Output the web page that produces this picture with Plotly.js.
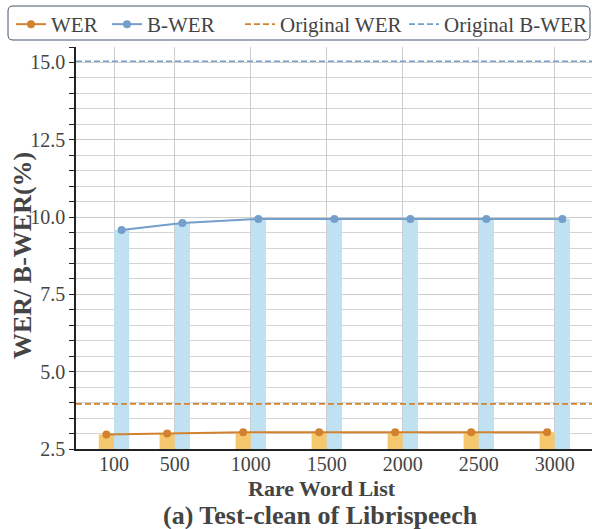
<!DOCTYPE html>
<html>
<head>
<meta charset="utf-8">
<script src="https://cdn.plot.ly/plotly-3.0.1.min.js"></script>
<style>
html,body{margin:0;padding:0;background:#fff;}
#chart{width:592px;height:529px;}
</style>
</head>
<body>
<div id="chart"></div>
<script>
// Data
const listSizes = [100, 500, 1000, 1500, 2000, 2500, 3000];
const tickLabels = ["100", "500", "1000", "1500", "2000", "2500", "3000"];
const werValues = [2.97, 3.00, 3.04, 3.04, 3.04, 3.04, 3.04];
const bwerValues = [9.58, 9.81, 9.94, 9.94, 9.94, 9.94, 9.94];
const originalWER = 3.96;
const originalBWER = 15.04;
const yTickVals = [2.5, 5.0, 7.5, 10.0, 12.5, 15.0];
const yTickText = ["2.5", "5.0", "7.5", "10.0", "12.5", "15.0"];
const seriesNames = ["WER", "B-WER", "Original WER", "Original B-WER"];

const xRange = [-150, 3245];
const yRange = [2.5, 15.5];
const halfBar = 50;

const orangeLine = "#d2822f";
const blueLine = "#749fca";
const orangeBar = "#f6c86e";
const blueBar = "#bfe1f1";
const textCol = "#444444";
const serif = "Liberation Serif";

const W = 592, H = 529, mL = 76, mR = 0, mT = 47, mB = 80;
const pw = W - mL - mR, ph = H - mT - mB;
const px2x = p => (p - mL) / pw;
const px2y = p => 1 - (p - mT) / ph;

const werX = listSizes.map(v => v - halfBar);
const bwerX = listSizes.map(v => v + halfBar);

const traces = [
  {type: "bar", x: listSizes, y: werValues, offset: -2 * halfBar, width: 2 * halfBar,
   marker: {color: orangeBar, line: {width: 0}}, showlegend: false, hoverinfo: "skip"},
  {type: "bar", x: listSizes, y: bwerValues, offset: 0, width: 2 * halfBar,
   marker: {color: blueBar, line: {width: 0}}, showlegend: false, hoverinfo: "skip"},
  {type: "scatter", mode: "lines+markers", name: seriesNames[0], x: werX, y: werValues, legend: "legend",
   line: {color: orangeLine, width: 2}, marker: {color: orangeLine, size: 8}},
  {type: "scatter", mode: "lines+markers", name: seriesNames[1], x: bwerX, y: bwerValues, legend: "legend2",
   line: {color: blueLine, width: 2}, marker: {color: blueLine, size: 8}},
  {type: "scatter", mode: "lines", name: seriesNames[2], x: xRange, y: [originalWER, originalWER], legend: "legend3",
   line: {color: orangeLine, width: 1.6, dash: "6px,3px"}},
  {type: "scatter", mode: "lines", name: seriesNames[3], x: xRange, y: [originalBWER, originalBWER], legend: "legend4",
   line: {color: blueLine, width: 1.6, dash: "6px,3px"}}
];

// rounded legend frame
const bx0 = px2x(8), bx1 = px2x(590), by0 = px2y(6), by1 = px2y(40);
const rx = 5 / pw, ry = 5 / ph;
const framePath = `M ${bx0 + rx},${by0} L ${bx1 - rx},${by0} Q ${bx1},${by0} ${bx1},${by0 - ry} ` +
  `L ${bx1},${by1 + ry} Q ${bx1},${by1} ${bx1 - rx},${by1} L ${bx0 + rx},${by1} ` +
  `Q ${bx0},${by1} ${bx0},${by1 + ry} L ${bx0},${by0 - ry} Q ${bx0},${by0} ${bx0 + rx},${by0} Z`;

const legendBase = px => ({
  orientation: "h", xref: "paper", yref: "paper",
  x: px2x(px), xanchor: "left", y: px2y(4), yanchor: "top",
  borderwidth: 0, bgcolor: "rgba(0,0,0,0)",
  font: {family: serif, size: 21, color: textCol}, itemwidth: 30
});

const layout = {
  width: W, height: H,
  margin: {l: mL, r: mR, t: mT, b: mB, autoexpand: false},
  paper_bgcolor: "#fff", plot_bgcolor: "#fff",
  font: {family: serif, color: textCol, size: 20},
  barmode: "overlay",
  xaxis: {
    range: xRange, tickmode: "array", tickvals: listSizes, ticktext: tickLabels,
    showgrid: true, gridcolor: "#cccccc", gridwidth: 1,
    showline: true, linecolor: "#222", linewidth: 1.5,
    ticks: "", zeroline: false, ticklabelstandoff: -4,
    tickfont: {family: serif, size: 20, color: textCol}
  },
  yaxis: {
    range: yRange, tickmode: "array", tickvals: yTickVals, ticktext: yTickText,
    showgrid: true, gridcolor: "#cccccc", gridwidth: 1,
    showline: true, linecolor: "#222", linewidth: 1.5,
    ticks: "outside", ticklen: 5, tickcolor: "#222",
    minor: {dtick: 0.5, tick0: 2.5, showgrid: true, gridcolor: "#d4d4d4", ticks: "outside", ticklen: 5, tickcolor: "#222"},
    zeroline: false,
    tickfont: {family: serif, size: 20, color: textCol}
  },
  legend: legendBase(11),
  legend2: legendBase(107),
  legend3: legendBase(240),
  legend4: legendBase(404),
  shapes: [{type: "path", xref: "paper", yref: "paper", path: framePath,
    line: {color: "#44546a", width: 1}, fillcolor: "rgba(0,0,0,0)", layer: "above"}],
  annotations: [
    {text: "<b>WER/ B-WER(%)</b>", xref: "paper", yref: "paper", textangle: -90,
     x: px2x(22), y: px2y(256), xanchor: "center", yanchor: "middle", showarrow: false,
     font: {family: serif, size: 26, color: textCol}},
    {text: "<b>Rare Word List</b>", xref: "paper", yref: "paper",
     x: px2x(322), y: 0, yshift: -39, xanchor: "center", yanchor: "middle", showarrow: false,
     font: {family: serif, size: 22, color: textCol}},
    {text: "<b>(a) Test-clean of Librispeech</b>", xref: "paper", yref: "paper",
     x: px2x(320), y: 0, yshift: -66, xanchor: "center", yanchor: "middle", showarrow: false,
     font: {family: serif, size: 26, color: textCol}}
  ]
};

Plotly.newPlot("chart", traces, layout, {displayModeBar: false, responsive: false});
</script>
</body>
</html>
